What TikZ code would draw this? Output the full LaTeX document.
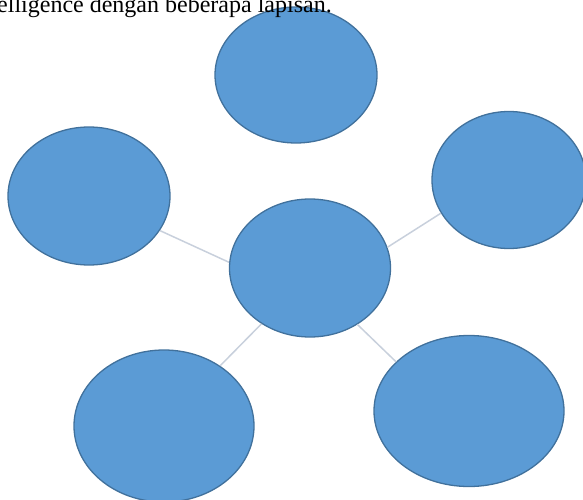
\documentclass[tikz,border=0pt]{standalone}
\usepackage{fontspec}
\setmainfont{Liberation Serif}
\usetikzlibrary{shapes.geometric}
\definecolor{ofill}{HTML}{5B9BD5}
\definecolor{oline}{HTML}{41719C}
\definecolor{conn}{RGB}{200,208,220}
\tikzset{
  bub/.style={ellipse, fill=ofill, draw=oline, line width=1.3pt, inner sep=0pt},
  link/.style={draw=conn, line width=1.5pt}
}
\begin{document}
\begin{tikzpicture}[x=1pt,y=-1pt]
\useasboundingbox (0,0) rectangle (583,500);
\begin{scope}
\clip (0,0) rectangle (583,500);
\node[bub, minimum width=162pt, minimum height=136pt] (top) at (296,75) {};
\node[bub, minimum width=162pt, minimum height=138pt] (left) at (89,196) {};
\node[bub, minimum width=154pt, minimum height=137pt] (right) at (509,180) {};
\node[bub, minimum width=161pt, minimum height=138pt] (mid) at (310,268) {};
\node[bub, minimum width=180pt, minimum height=152pt] (bl) at (164,426) {};
\node[bub, minimum width=190pt, minimum height=151pt] (br) at (469,411) {};
\draw[link] (left.-26) -- (mid.176);
\draw[link] (mid.15) -- (right.206);
\draw[link] (mid.229) -- (bl.47);
\draw[link] (mid.-50) -- (br.146);
\node[anchor=base west, inner sep=0pt, font=\fontsize{24}{28}\selectfont] (cap) at (-3,13) {elligence dengan beberapa lapisan.};
\end{scope}
\end{tikzpicture}
\end{document}
